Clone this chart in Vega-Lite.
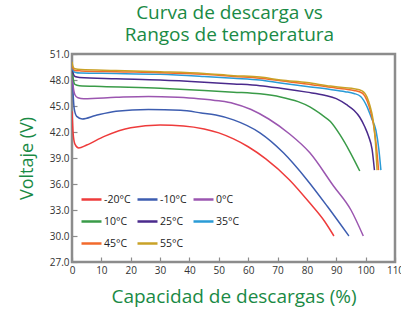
{
  "$schema": "https://vega.github.io/schema/vega-lite/v6.json",
  "autosize": "none",
  "width": 323,
  "height": 208,
  "padding": {"left": 72, "top": 54, "right": 6, "bottom": 48},
  "background": "white",
  "title": {
    "text": ["Curva de descarga vs", "Rangos de temperatura"],
    "font": "Open Sans",
    "fontSize": 19,
    "fontWeight": "normal",
    "color": "#1a8a45",
    "lineHeight": 22,
    "offset": 4,
    "anchor": "middle",
    "dx": -4
  },
  "config": {
    "font": "Open Sans",
    "view": {"stroke": "#8c8c8c", "strokeWidth": 2.5},
    "axis": {
      "domain": false,
      "grid": false,
      "tickColor": "#8c8c8c",
      "tickSize": -5,
      "tickWidth": 1.2,
      "labelFont": "Open Sans",
      "labelFontSize": 10,
      "labelColor": "#333333",
      "titleFont": "Open Sans",
      "titleFontSize": 18,
      "titleFontWeight": "normal",
      "titleColor": "#1a8a45"
    }
  },
  "data": {
    "values": [
      {"s": "-20°C", "x": 0, "v": 44.4}, {"s": "-20°C", "x": 0.4, "v": 41.8}, {"s": "-20°C", "x": 1, "v": 40.6}, {"s": "-20°C", "x": 2.3, "v": 40.15}, {"s": "-20°C", "x": 5, "v": 40.5}, {"s": "-20°C", "x": 11, "v": 41.5}, {"s": "-20°C", "x": 20, "v": 42.5}, {"s": "-20°C", "x": 30, "v": 42.8}, {"s": "-20°C", "x": 38, "v": 42.7}, {"s": "-20°C", "x": 45, "v": 42.35}, {"s": "-20°C", "x": 50, "v": 41.9}, {"s": "-20°C", "x": 55, "v": 41.2}, {"s": "-20°C", "x": 60, "v": 40.3}, {"s": "-20°C", "x": 66, "v": 38.9}, {"s": "-20°C", "x": 74, "v": 36.5}, {"s": "-20°C", "x": 81, "v": 33.8}, {"s": "-20°C", "x": 86, "v": 31.7}, {"s": "-20°C", "x": 89.2, "v": 30.0},
      {"s": "-10°C", "x": 0, "v": 49.8}, {"s": "-10°C", "x": 0.3, "v": 47.0}, {"s": "-10°C", "x": 0.8, "v": 44.6}, {"s": "-10°C", "x": 1.6, "v": 43.8}, {"s": "-10°C", "x": 3.5, "v": 43.5}, {"s": "-10°C", "x": 8, "v": 43.9}, {"s": "-10°C", "x": 15, "v": 44.4}, {"s": "-10°C", "x": 26, "v": 44.6}, {"s": "-10°C", "x": 37, "v": 44.5}, {"s": "-10°C", "x": 44, "v": 44.2}, {"s": "-10°C", "x": 49, "v": 43.95}, {"s": "-10°C", "x": 55, "v": 43.4}, {"s": "-10°C", "x": 64, "v": 41.9}, {"s": "-10°C", "x": 72, "v": 39.6}, {"s": "-10°C", "x": 80, "v": 36.5}, {"s": "-10°C", "x": 87, "v": 33.4}, {"s": "-10°C", "x": 94.3, "v": 30.0},
      {"s": "0°C", "x": 0, "v": 49.0}, {"s": "0°C", "x": 0.4, "v": 47.3}, {"s": "0°C", "x": 1, "v": 46.3}, {"s": "0°C", "x": 2, "v": 45.95}, {"s": "0°C", "x": 4, "v": 45.85}, {"s": "0°C", "x": 15, "v": 46.0}, {"s": "0°C", "x": 26, "v": 46.1}, {"s": "0°C", "x": 36, "v": 46.0}, {"s": "0°C", "x": 43, "v": 45.85}, {"s": "0°C", "x": 50, "v": 45.6}, {"s": "0°C", "x": 55, "v": 45.3}, {"s": "0°C", "x": 61, "v": 44.6}, {"s": "0°C", "x": 67, "v": 43.5}, {"s": "0°C", "x": 74, "v": 41.8}, {"s": "0°C", "x": 81, "v": 39.6}, {"s": "0°C", "x": 89, "v": 35.8}, {"s": "0°C", "x": 95, "v": 33.0}, {"s": "0°C", "x": 99.2, "v": 30.0},
      {"s": "10°C", "x": 0, "v": 49.6}, {"s": "10°C", "x": 0.4, "v": 48.2}, {"s": "10°C", "x": 1, "v": 47.5}, {"s": "10°C", "x": 2.5, "v": 47.35}, {"s": "10°C", "x": 10, "v": 47.25}, {"s": "10°C", "x": 30, "v": 47.05}, {"s": "10°C", "x": 45, "v": 46.8}, {"s": "10°C", "x": 55, "v": 46.6}, {"s": "10°C", "x": 64, "v": 46.4}, {"s": "10°C", "x": 71, "v": 46.05}, {"s": "10°C", "x": 77, "v": 45.5}, {"s": "10°C", "x": 81, "v": 44.9}, {"s": "10°C", "x": 85, "v": 44.0}, {"s": "10°C", "x": 88, "v": 43.2}, {"s": "10°C", "x": 91.4, "v": 41.6}, {"s": "10°C", "x": 94.5, "v": 39.8}, {"s": "10°C", "x": 98, "v": 37.5},
      {"s": "25°C", "x": 0, "v": 49.9}, {"s": "25°C", "x": 0.4, "v": 48.8}, {"s": "25°C", "x": 1, "v": 48.4}, {"s": "25°C", "x": 2.5, "v": 48.3}, {"s": "25°C", "x": 15, "v": 48.15}, {"s": "25°C", "x": 30, "v": 48.0}, {"s": "25°C", "x": 45, "v": 47.75}, {"s": "25°C", "x": 55, "v": 47.55}, {"s": "25°C", "x": 64, "v": 47.35}, {"s": "25°C", "x": 71, "v": 47.05}, {"s": "25°C", "x": 80, "v": 46.6}, {"s": "25°C", "x": 86, "v": 46.25}, {"s": "25°C", "x": 90, "v": 45.85}, {"s": "25°C", "x": 93.5, "v": 45.15}, {"s": "25°C", "x": 96, "v": 44.5}, {"s": "25°C", "x": 98, "v": 43.7}, {"s": "25°C", "x": 99.7, "v": 42.6}, {"s": "25°C", "x": 101, "v": 41.5}, {"s": "25°C", "x": 102.2, "v": 40.0}, {"s": "25°C", "x": 103, "v": 37.6},
      {"s": "35°C", "x": 0, "v": 49.6}, {"s": "35°C", "x": 0.4, "v": 49.1}, {"s": "35°C", "x": 1, "v": 48.9}, {"s": "35°C", "x": 3, "v": 48.8}, {"s": "35°C", "x": 15, "v": 48.75}, {"s": "35°C", "x": 30, "v": 48.65}, {"s": "35°C", "x": 45, "v": 48.4}, {"s": "35°C", "x": 55, "v": 48.2}, {"s": "35°C", "x": 64, "v": 48.0}, {"s": "35°C", "x": 71, "v": 47.65}, {"s": "35°C", "x": 80, "v": 47.25}, {"s": "35°C", "x": 88, "v": 46.9}, {"s": "35°C", "x": 93, "v": 46.65}, {"s": "35°C", "x": 96, "v": 46.45}, {"s": "35°C", "x": 98.3, "v": 46.1}, {"s": "35°C", "x": 100.5, "v": 44.9}, {"s": "35°C", "x": 102, "v": 43.6}, {"s": "35°C", "x": 103.5, "v": 42.2}, {"s": "35°C", "x": 104.5, "v": 40.0}, {"s": "35°C", "x": 105.2, "v": 37.6},
      {"s": "45°C", "x": 0, "v": 49.8}, {"s": "45°C", "x": 0.4, "v": 49.3}, {"s": "45°C", "x": 1, "v": 49.1}, {"s": "45°C", "x": 3, "v": 49.05}, {"s": "45°C", "x": 15, "v": 48.95}, {"s": "45°C", "x": 30, "v": 48.85}, {"s": "45°C", "x": 45, "v": 48.65}, {"s": "45°C", "x": 55, "v": 48.4}, {"s": "45°C", "x": 64, "v": 48.2}, {"s": "45°C", "x": 71, "v": 47.9}, {"s": "45°C", "x": 80, "v": 47.55}, {"s": "45°C", "x": 88, "v": 47.15}, {"s": "45°C", "x": 93, "v": 46.95}, {"s": "45°C", "x": 96, "v": 46.8}, {"s": "45°C", "x": 98.8, "v": 46.5}, {"s": "45°C", "x": 100.5, "v": 45.6}, {"s": "45°C", "x": 101.8, "v": 44.2}, {"s": "45°C", "x": 102.8, "v": 42.6}, {"s": "45°C", "x": 103.7, "v": 40.2}, {"s": "45°C", "x": 104.4, "v": 37.6},
      {"s": "55°C", "x": 0, "v": 50.1}, {"s": "55°C", "x": 0.4, "v": 49.5}, {"s": "55°C", "x": 1, "v": 49.3}, {"s": "55°C", "x": 3, "v": 49.2}, {"s": "55°C", "x": 15, "v": 49.1}, {"s": "55°C", "x": 30, "v": 48.95}, {"s": "55°C", "x": 45, "v": 48.75}, {"s": "55°C", "x": 55, "v": 48.5}, {"s": "55°C", "x": 64, "v": 48.35}, {"s": "55°C", "x": 71, "v": 48.0}, {"s": "55°C", "x": 80, "v": 47.7}, {"s": "55°C", "x": 88, "v": 47.3}, {"s": "55°C", "x": 93, "v": 47.1}, {"s": "55°C", "x": 96, "v": 47.0}, {"s": "55°C", "x": 98.8, "v": 46.75}, {"s": "55°C", "x": 100.5, "v": 46.0}, {"s": "55°C", "x": 101.5, "v": 45.0}, {"s": "55°C", "x": 102.5, "v": 43.5}, {"s": "55°C", "x": 103.3, "v": 41.0}, {"s": "55°C", "x": 103.9, "v": 37.6}
    ]
  },
  "mark": {"type": "line", "strokeWidth": 1.5, "interpolate": "monotone", "clip": true},
  "encoding": {
    "x": {
      "field": "x", "type": "quantitative",
      "scale": {"domain": [0, 110], "nice": false},
      "axis": {"values": [0, 10, 20, 30, 40, 50, 60, 70, 80, 90, 100, 110], "labelPadding": 8, "title": "Capacidad de descargas (%)", "titlePadding": 12, "titleFontSize": 19, "labelFlush": false}
    },
    "y": {
      "field": "v", "type": "quantitative",
      "scale": {"domain": [27, 51], "nice": false, "zero": false},
      "axis": {"values": [27, 30, 33, 36, 39, 42, 45, 48, 51], "format": ".1f", "labelPadding": 8, "title": "Voltaje (V)", "titlePadding": 13}
    },
    "color": {
      "field": "s", "type": "nominal",
      "scale": {
        "domain": ["-20°C", "-10°C", "0°C", "10°C", "25°C", "35°C", "45°C", "55°C"],
        "range": ["#ee3b3b", "#3d5db0", "#9b56b0", "#3a9b48", "#4a2a8c", "#2a9bd6", "#f26a2c", "#c9a227"]
      },
      "legend": {
        "title": null,
        "orient": "none",
        "direction": "horizontal",
        "legendX": 8,
        "legendY": 134,
        "columns": 3,
        "padding": 0,
        "symbolType": "stroke",
        "symbolSize": 400,
        "symbolStrokeWidth": 2.5,
        "labelFont": "Open Sans",
        "labelFontSize": 10.5,
        "labelColor": "#222222",
        "labelOffset": 1,
        "rowPadding": 5,
        "columnPadding": 1
      }
    }
  }
}
